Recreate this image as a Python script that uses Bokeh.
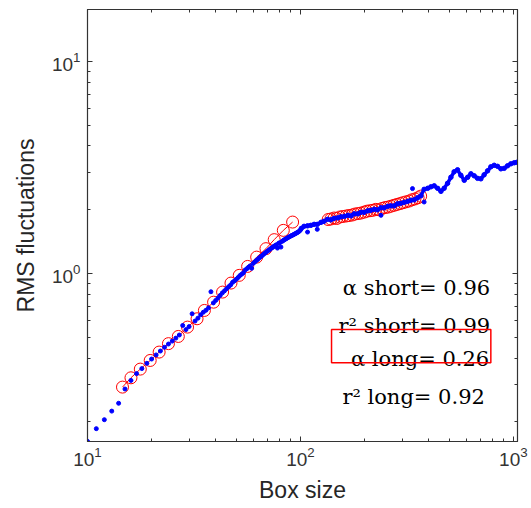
from bokeh.plotting import figure
from bokeh.models import LogAxis, FixedTicker, LogTickFormatter, Label, BoxAnnotation, CustomJSTickFormatter
from bokeh.embed import file_html
from bokeh.resources import INLINE

# ---------------- data ----------------
# DFA fluctuation function, short box sizes (one point per box size)
short_n = list(range(10, 101))
short_F = [0.162, 0.186, 0.205, 0.225, 0.245, 0.286, 0.314, 0.338, 0.357, 0.378,
           0.396, 0.414, 0.432, 0.450, 0.466, 0.481, 0.497, 0.514, 0.570, 0.545,
           0.563, 0.647, 0.598, 0.617, 0.640, 0.658, 0.672, 0.690, 0.822, 0.728,
           0.748, 0.768, 0.790, 0.812, 0.830, 0.850, 0.868, 0.885, 0.910, 0.925,
           0.942, 0.960, 0.980, 0.995, 1.010, 1.040, 1.055, 1.072, 1.088, 1.060,
           1.118, 1.135, 1.152, 1.168, 1.185, 1.200, 1.215, 1.232, 1.248, 1.262,
           1.278, 1.290, 1.305, 1.318, 1.330, 1.345, 1.355, 1.368, 1.320, 1.390,
           1.400, 1.335, 1.420, 1.432, 1.445, 1.455, 1.465, 1.475, 1.485, 1.495,
           1.505, 1.512, 1.520, 1.530, 1.538, 1.548, 1.556, 1.566, 1.575, 1.590,
           1.605]

# DFA fluctuation function, long box sizes (dense, traced)
long_n = [101, 104, 108, 112, 116, 120, 125, 129, 134, 139,
          144, 150, 155, 161, 167, 173, 179, 186, 192, 199,
          207, 214, 222, 230, 239, 247, 257, 266, 276, 286,
          296, 307, 319, 330, 342, 355, 368, 381, 396, 410,
          425, 441, 457, 473, 491, 509, 527, 547, 567, 588,
          610, 632, 655, 679, 704, 729, 757, 784, 813, 843,
          874, 906, 939, 973, 1009, 1039]
long_F = [1.635, 1.672, 1.681, 1.690, 1.708, 1.708, 1.746, 1.765, 1.804, 1.794,
          1.823, 1.833, 1.853, 1.863, 1.884, 1.873, 1.915, 1.915, 1.946, 1.946,
          1.978, 1.989, 2.011, 2.000, 2.044, 2.044, 2.077, 2.088, 2.088, 2.134,
          2.146, 2.169, 2.193, 2.217, 2.229, 2.278, 2.328, 2.498, 2.526, 2.567,
          2.595, 2.526, 2.444, 2.526, 2.667, 2.847, 3.021, 3.088, 2.909, 2.755,
          2.847, 2.957, 2.893, 2.815, 2.800, 2.924, 3.054, 3.190, 3.243, 3.207,
          3.121, 3.138, 3.225, 3.295, 3.332, 3.350]

# a few scattered points off the dense band
scatter_n = [108, 120, 239, 336, 381]
scatter_F = [1.571, 1.618, 1.884, 2.518, 2.177]

# points used in the fits (red circles)
fit_short_n = [14.6, 16.0, 17.7, 19.7, 21.7, 24.0, 26.7, 29.5, 32.7, 35.4,
               39.1, 43.1, 47.2, 51.6, 56.5, 62.3, 68.9, 75.3, 83.1, 91.9]
fit_short_F = [0.292, 0.323, 0.355, 0.390, 0.427, 0.468, 0.506, 0.560, 0.613, 0.671,
               0.734, 0.819, 0.903, 0.982, 1.082, 1.197, 1.312, 1.447, 1.600, 1.751]
fit_long_n = [135, 139, 144, 148, 153, 158, 164, 169, 175, 180,
              186, 192, 199, 205, 212, 219, 226, 234, 242, 250,
              258, 266, 275, 284, 294, 303, 313, 324, 334, 345, 357, 367]
fit_long_F = [1.80, 1.81, 1.83, 1.82, 1.85, 1.86, 1.87, 1.88, 1.89, 1.91,
              1.92, 1.93, 1.95, 1.97, 1.98, 1.99, 2.01, 2.00, 2.03, 2.05,
              2.06, 2.08, 2.10, 2.12, 2.14, 2.16, 2.18, 2.20, 2.23, 2.25, 2.28, 2.32]

annot_texts = ["\u03b1 short= 0.96", "r\u00b2 short= 0.99", "\u03b1 long= 0.26", "r\u00b2 long= 0.92"]

x_major = [10, 100, 1000]
x_minor = [20, 30, 40, 50, 60, 70, 80, 90, 200, 300, 400, 500, 600, 700, 800, 900]
y_major = [1, 10]
y_minor = [0.2, 0.3, 0.4, 0.5, 0.6, 0.7, 0.8, 0.9, 2, 3, 4, 5, 6, 7, 8, 9]

# ---------------- figure ----------------
p = figure(width=531, height=508, x_axis_type="log", y_axis_type="log",
           x_range=(10, 1046), y_range=(0.1618, 17.59),
           output_backend="svg", toolbar_location=None,
           min_border_left=87, min_border_right=14, min_border_top=9, min_border_bottom=67)
p.xgrid.visible = False
p.ygrid.visible = False
p.outline_line_color = "#333333"
p.outline_line_width = 1.2
p.background_fill_color = "white"
p.border_fill_color = "white"

axis_col = "#333333"
lab_col = "#262626"

def style_axis(ax):
    ax.major_tick_in = 5
    ax.major_tick_out = 0
    ax.minor_tick_in = 3
    ax.minor_tick_out = 0
    ax.axis_line_color = axis_col
    ax.major_tick_line_color = axis_col
    ax.minor_tick_line_color = axis_col

p.xaxis.ticker = FixedTicker(ticks=x_major, minor_ticks=x_minor)
p.yaxis.ticker = FixedTicker(ticks=y_major, minor_ticks=y_minor)
p.xaxis.formatter = LogTickFormatter()
p.yaxis.formatter = LogTickFormatter()
p.xaxis.axis_label = "Box size"
p.yaxis.axis_label = "RMS fluctuations"
for ax in (p.xaxis[0], p.yaxis[0]):
    style_axis(ax)
    ax.major_label_text_font = "Liberation Sans"
    ax.major_label_text_font_size = "19px"
    ax.major_label_text_color = "#333333"
    ax.axis_label_text_font = "Liberation Sans"
    ax.axis_label_text_font_size = "23px"
    ax.axis_label_text_font_style = "normal"
    ax.axis_label_text_color = lab_col
p.xaxis.major_label_standoff = 5
p.yaxis.major_label_standoff = 7
p.xaxis.axis_label_standoff = 8
p.yaxis.axis_label_standoff = 10

blank = CustomJSTickFormatter(code="return ''")
top_ax = LogAxis(ticker=FixedTicker(ticks=x_major, minor_ticks=x_minor), formatter=blank,
                 major_label_text_font_size="1px", major_label_standoff=0)
right_ax = LogAxis(ticker=FixedTicker(ticks=y_major, minor_ticks=y_minor), formatter=blank,
                   major_label_text_font_size="1px", major_label_standoff=0)
style_axis(top_ax)
style_axis(right_ax)
p.add_layout(top_ax, "above")
p.add_layout(right_ax, "right")

# fits (red circles joined by a thin line)
p.line(fit_short_n, fit_short_F, line_color="red", line_width=1)
p.line(fit_long_n, fit_long_F, line_color="red", line_width=1)
p.scatter(fit_short_n, fit_short_F, marker="circle", size=12,
          fill_color=None, line_color="red", line_width=1)
p.scatter(fit_long_n, fit_long_F, marker="circle", size=12,
          fill_color=None, line_color="red", line_width=1)

# data (blue dots)
p.scatter(short_n, short_F, marker="circle", size=4, color="#0000ff")
p.line(long_n, long_F, line_color="#0000ff", line_width=3.5)
p.scatter(long_n, long_F, marker="circle", size=4.5, color="#0000ff")
p.scatter(scatter_n, scatter_F, marker="circle", size=4, color="#0000ff")

# annotations
ann_x = [778, 778, 770, 735]
ann_y = [0.859, 0.564, 0.397, 0.262]
for t, ax_, ay_ in zip(annot_texts, ann_x, ann_y):
    p.add_layout(Label(x=ax_, y=ay_, text=t, text_align="right", text_baseline="alphabetic",
                       text_font="DejaVu Serif", text_font_size="21px", text_color="black"))

p.add_layout(BoxAnnotation(left=140, right=784, bottom=0.380, top=0.546,
                           fill_color=None, fill_alpha=0, line_color="red",
                           line_alpha=1.0, line_width=1.5))

open("out.html", "w").write(file_html(p, INLINE))
